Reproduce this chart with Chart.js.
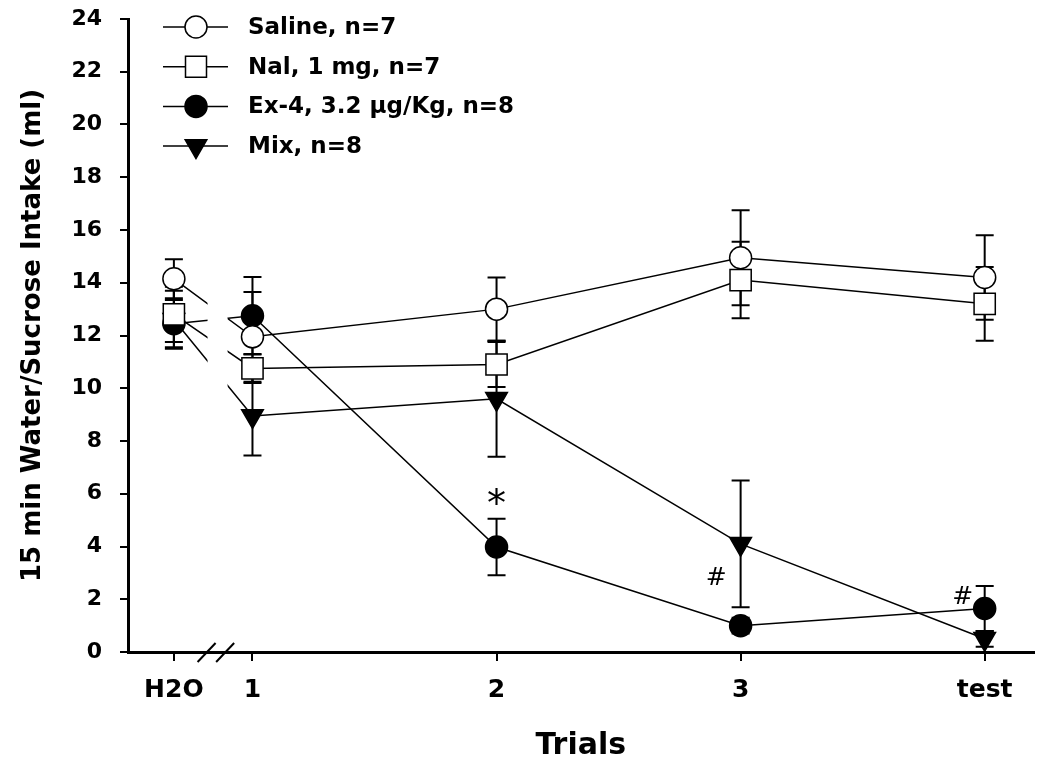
<!DOCTYPE html>
<html>
<head>
<meta charset="utf-8">
<script src="https://cdn.jsdelivr.net/npm/chart.js@4.4.1/dist/chart.umd.min.js"></script>
<style>
  html, body { margin: 0; padding: 0; background: #fff; }
</style>
</head>
<body>
<canvas id="chart-intake" width="1050" height="765"></canvas>
<script>
// trial positions on the x axis (H2O sits left of the axis break)
const trialX = [0.678, 1, 2, 3, 4];
const tickLabels = ["H2O", "1", "2", "3", "test"];

const seriesNames = ["Saline, n=7", "Nal, 1 mg, n=7", "Ex-4, 3.2 µg/Kg, n=8", "Mix, n=8"];

// means (ml) and SEM for each group
const saline = [14.15, 11.95, 13.0, 14.95, 14.2];
const salineErr = [0.74, 1.7, 1.2, 1.8, 1.6];
const nal = [12.8, 10.75, 10.9, 14.1, 13.2];
const nalErr = [1.05, 0.55, 0.85, 1.45, 1.4];
const ex4 = [12.45, 12.75, 3.98, 1.0, 1.65];
const ex4Err = [0.9, 1.47, 1.07, 0.3, 0.85];
const mix = [12.6, 8.95, 9.6, 4.1, 0.5];
const mixErr = [1.1, 1.5, 2.2, 2.4, 0.3];

// significance marks
const markText = ["*", "#", "#"];
const markX = [2, 2.9, 3.91];
const markY = [5.9, 2.9, 2.15];

const FONT = "DejaVu Sans";
const allErrors = [salineErr, nalErr, ex4Err, mixErr];
const markerKinds = ["circleOpen", "square", "circleFilled", "triangleDown"];

function toPoints(vals) {
  return vals.map((v, i) => ({ x: trialX[i], y: v }));
}

function drawMarker(ctx, kind, x, y) {
  ctx.save();
  ctx.lineWidth = 1.5;
  ctx.strokeStyle = "#000";
  ctx.fillStyle = kind === "circleOpen" || kind === "square" ? "#fff" : "#000";
  ctx.beginPath();
  if (kind === "circleOpen" || kind === "circleFilled") {
    ctx.arc(x, y, 11, 0, Math.PI * 2);
  } else if (kind === "square") {
    ctx.rect(x - 10.5, y - 10.5, 21, 21);
  } else {
    const r = 12.5;
    ctx.moveTo(x, y + r);
    ctx.lineTo(x - r * 0.866, y - r / 2);
    ctx.lineTo(x + r * 0.866, y - r / 2);
    ctx.closePath();
  }
  ctx.fill();
  ctx.stroke();
  ctx.restore();
}

const errorBars = {
  id: "errorBars",
  beforeDatasetsDraw(chart) {
    const { ctx, scales: { y } } = chart;
    ctx.save();
    ctx.strokeStyle = "#000";
    ctx.lineWidth = 2;
    chart.data.datasets.forEach((ds, i) => {
      const meta = chart.getDatasetMeta(i);
      meta.data.forEach((pt, j) => {
        const v = ds.data[j].y;
        const e = allErrors[i][j];
        const top = y.getPixelForValue(v + e);
        const bot = y.getPixelForValue(v - e);
        ctx.beginPath();
        ctx.moveTo(pt.x, top);
        ctx.lineTo(pt.x, bot);
        ctx.moveTo(pt.x - 9, top);
        ctx.lineTo(pt.x + 9, top);
        ctx.moveTo(pt.x - 9, bot);
        ctx.lineTo(pt.x + 9, bot);
        ctx.stroke();
      });
    });
    ctx.restore();
  },
};

// gap in the lines between H2O and trial 1, plus the // on the x axis
const axisBreak = {
  id: "axisBreak",
  afterDatasetsDraw(chart) {
    const { ctx, chartArea, scales: { x } } = chart;
    const x0 = x.getPixelForValue(0.816);
    const x1 = x.getPixelForValue(0.898);
    ctx.save();
    ctx.fillStyle = "#fff";
    ctx.fillRect(x0, chartArea.top, x1 - x0, chartArea.bottom - chartArea.top - 3);
    ctx.restore();
  },
  afterDraw(chart) {
    const { ctx, chartArea, scales: { x } } = chart;
    const yb = chartArea.bottom;
    ctx.save();
    ctx.strokeStyle = "#000";
    ctx.lineWidth = 2;
    [0.812, 0.888].forEach((v) => {
      const px = x.getPixelForValue(v);
      ctx.beginPath();
      ctx.moveTo(px - 9, yb + 10);
      ctx.lineTo(px + 9, yb - 9);
      ctx.stroke();
    });
    ctx.restore();
  },
};

const sigMarks = {
  id: "sigMarks",
  afterDraw(chart) {
    const { ctx, scales: { x, y } } = chart;
    ctx.save();
    ctx.fillStyle = "#000";
    ctx.textAlign = "center";
    ctx.textBaseline = "alphabetic";
    markText.forEach((t, i) => {
      ctx.font = t === "*" ? `38px "${FONT}"` : `25px "${FONT}"`;
      const m = ctx.measureText(t);
      const cy = y.getPixelForValue(markY[i]);
      const base = cy + (m.actualBoundingBoxAscent - m.actualBoundingBoxDescent) / 2;
      ctx.fillText(t, x.getPixelForValue(markX[i]), base);
    });
    ctx.restore();
  },
};

const legendBox = {
  id: "legendBox",
  afterDraw(chart) {
    const { ctx } = chart;
    ctx.save();
    ctx.font = `bold 23px "${FONT}"`;
    ctx.fillStyle = "#000";
    ctx.textBaseline = "middle";
    ctx.textAlign = "left";
    seriesNames.forEach((name, i) => {
      const yy = 27 + i * 39.7;
      ctx.strokeStyle = "#000";
      ctx.lineWidth = 1.5;
      ctx.beginPath();
      ctx.moveTo(163, yy);
      ctx.lineTo(228, yy);
      ctx.stroke();
      drawMarker(ctx, markerKinds[i], 196, yy);
      ctx.fillText(name, 248, yy + 1);
    });
    ctx.restore();
  },
};

const common = {
  borderColor: "#000",
  borderWidth: 1.5,
  pointBorderColor: "#000",
  pointBorderWidth: 1.5,
  tension: 0,
  clip: false,
};

const ctx = document.querySelector("#chart-intake").getContext("2d");
const myChart = new Chart(ctx, {
  type: "line",
  data: {
    datasets: [
      { ...common, label: seriesNames[0], data: toPoints(saline), pointStyle: "circle", pointRadius: 11, pointBackgroundColor: "#fff" },
      { ...common, label: seriesNames[1], data: toPoints(nal), pointStyle: "rect", pointRadius: 15, pointBackgroundColor: "#fff" },
      { ...common, label: seriesNames[2], data: toPoints(ex4), pointStyle: "circle", pointRadius: 11, pointBackgroundColor: "#000" },
      { ...common, label: seriesNames[3], data: toPoints(mix), pointStyle: "triangle", pointRotation: 180, pointRadius: 12.5, pointBackgroundColor: "#000" },
    ],
  },
  options: {
    responsive: false,
    animation: false,
    layout: { padding: { left: 0, right: 13, top: 19, bottom: 0 } },
    scales: {
      x: {
        type: "linear",
        min: 0.49,
        max: 4.2,
        afterBuildTicks: (scale) => {
          scale.ticks = trialX.map((v) => ({ value: v }));
        },
        afterFit: (scale) => {
          scale.height = 113;
          scale.paddingLeft = 0;
          scale.paddingRight = 0;
        },
        border: { display: true, color: "#000", width: 3 },
        grid: { drawOnChartArea: false, drawTicks: true, tickLength: 9, color: "#000", lineWidth: 2 },
        ticks: {
          autoSkip: false,
          maxRotation: 0,
          padding: 14,
          color: "#000",
          font: { family: FONT, size: 25, weight: "bold" },
          callback: (value, index) => tickLabels[index],
        },
        title: {
          display: true,
          text: "Trials",
          color: "#000",
          font: { family: FONT, size: 30, weight: "bold" },
          padding: { top: 0, bottom: 1 },
        },
      },
      y: {
        min: 0,
        max: 24,
        afterFit: (scale) => {
          scale.width = 128;
          scale.paddingTop = 0;
          scale.paddingBottom = 0;
        },
        border: { display: true, color: "#000", width: 3 },
        grid: { drawOnChartArea: false, drawTicks: true, tickLength: 8, color: "#000", lineWidth: 2 },
        ticks: {
          stepSize: 2,
          padding: 18,
          color: "#000",
          font: { family: FONT, size: 22, weight: "bold" },
        },
        title: {
          display: true,
          text: "15 min Water/Sucrose Intake (ml)",
          color: "#000",
          font: { family: FONT, size: 26, weight: "bold" },
          padding: { top: 18, bottom: 0 },
        },
      },
    },
    plugins: {
      legend: { display: false },
      tooltip: { enabled: false },
    },
  },
  plugins: [errorBars, axisBreak, sigMarks, legendBox],
});
</script>
</body>
</html>
